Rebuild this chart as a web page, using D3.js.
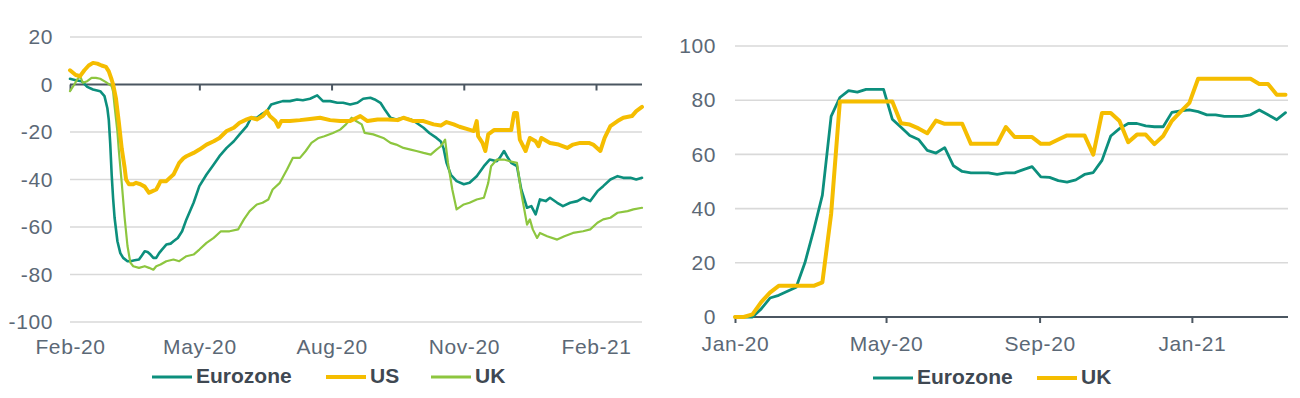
<!DOCTYPE html>
<html>
<head>
<meta charset="utf-8">
<script src="https://cdn.jsdelivr.net/npm/d3@7"></script>
<style>
  html, body { margin: 0; padding: 0; background: #fff; }
  svg { display: block; font-family: "Liberation Sans", Arial, sans-serif; }
</style>
</head>
<body>
<svg id="chart" width="1300" height="398"></svg>
<script>
// ---------- Left chart: daily index, days since 1 Feb 2020 ----------
const leftStart = "2020-02-01";
const leftEnd = "2021-03-05";
const leftTicks = ["2020-02-01", "2020-05-01", "2020-08-01", "2020-11-01", "2021-02-01"];
const leftYTicks = [20, 0, -20, -40, -60, -80, -100];

const usLeft = [[0,6],[4,4],[7,3.5],[10,6],[13,8],[16,9.1],[19,8.8],[22,8],[25,7.4],[27,5.5],[29,2],[30,0],[32,-6],[34,-16],[36,-27],[38,-35],[39,-40],[41,-42],[44,-42],[46,-41.4],[49,-42],[52,-43],[55,-45.6],[57,-45],[60,-44.2],[62,-42],[63,-40.7],[67,-40.7],[70,-39],[72,-37.9],[76,-33],[79,-31],[81,-30.2],[86,-28.8],[90,-27.4],[95,-25.3],[100,-23.9],[104,-22.5],[109,-19.6],[114,-18.2],[118,-16.1],[123,-14.7],[126,-14],[130,-14.7],[134,-13.3],[137,-11.2],[139,-13.3],[143,-15.4],[145,-17.8],[147,-15.4],[153,-15.4],[160,-15],[167,-14.5],[174,-14],[181,-15],[188,-15.4],[195,-15.4],[202,-13.3],[207,-15.4],[214,-14.7],[221,-14.7],[228,-15],[232,-14],[239,-15.4],[246,-15.4],[253,-16.8],[258,-17.3],[262,-15.8],[267,-16.8],[271,-17.8],[276,-18.7],[281,-19.6],[283,-15.4],[284,-21.8],[287,-24.6],[289,-28],[291,-21],[295,-19.2],[300,-19.2],[307,-19.2],[309,-12],[311,-12],[313,-23.2],[317,-28],[320,-22.5],[324,-23.9],[326,-26],[328,-22.5],[334,-24.6],[340,-25.3],[346,-26.7],[350,-25.3],[355,-24.6],[361,-24.6],[364,-25.3],[369,-28],[372,-22.5],[376,-17.5],[381,-15.4],[385,-14],[391,-13.3],[394,-11.2],[398,-9.4]];

const ezLeft = [[0,2.4],[4,1.8],[8,1.4],[12,-1],[16,-2.1],[21,-2.8],[24,-4.9],[26,-10],[27,-15],[28,-25],[29,-38],[30,-48],[31,-56],[33,-66],[35,-71],[37,-73],[40,-74.4],[42,-74.4],[45,-74],[48,-73.7],[50,-72],[52,-70.2],[54,-70.5],[56,-71.6],[58,-73],[60,-73],[62,-71],[64,-69.5],[67,-67.4],[70,-67],[72,-66],[75,-64.6],[78,-61.8],[81,-56.8],[86,-49.8],[90,-42.8],[95,-37.9],[100,-33.7],[104,-30.2],[109,-26.7],[114,-23.9],[118,-21],[123,-17.5],[126,-14],[130,-14],[133,-12.6],[137,-11.2],[140,-8.4],[144,-7.7],[148,-7],[153,-7],[158,-6.3],[162,-6.6],[167,-6],[172,-4.6],[176,-7],[181,-7],[186,-7.7],[190,-7.7],[195,-8.4],[200,-7.7],[204,-6],[209,-5.6],[212,-6.3],[216,-7.7],[219,-10.5],[223,-14],[227,-14.7],[232,-14],[237,-14.7],[241,-16.1],[246,-18.2],[250,-20.4],[255,-22.5],[258,-24],[260,-27],[262,-33],[265,-38],[269,-40.7],[274,-42],[278,-41.4],[283,-38.6],[288,-34.4],[292,-31.6],[297,-32.3],[299,-30.9],[302,-28],[304,-30.2],[307,-33],[311,-34.4],[314,-44.2],[318,-51.9],[321,-51.2],[324,-54.7],[327,-48.4],[331,-49.1],[334,-47.7],[339,-49.8],[343,-51.2],[348,-49.8],[353,-49.1],[357,-47.7],[362,-49.1],[367,-44.9],[371,-42.8],[376,-40],[381,-38.6],[385,-39.3],[390,-39.3],[394,-40],[398,-39.3]];

const ukLeft = [[0,-2.8],[3,0],[5,2.1],[7,3.5],[9,0.7],[12,1.4],[15,2.8],[18,2.8],[21,2.4],[25,1],[29,-0.7],[30,-3],[31,-9],[33,-20],[34,-28],[36,-41.4],[38,-56],[40,-68],[42,-75],[44,-76.5],[48,-77.2],[52,-76.5],[55,-77.2],[58,-78],[60,-76.5],[63,-75.8],[67,-74.4],[72,-73.7],[76,-74.4],[81,-72.3],[86,-71.6],[90,-69.5],[95,-66.7],[100,-64.6],[105,-61.8],[111,-61.8],[117,-61],[121,-56.8],[125,-53.3],[130,-50.5],[134,-49.8],[138,-48.4],[141,-44.2],[146,-41.4],[151,-35.8],[155,-30.9],[160,-30.9],[164,-28],[168,-24.6],[173,-22.5],[177,-21.8],[183,-20.4],[188,-19],[192,-16.8],[196,-14],[199,-15.4],[203,-16.8],[205,-20.4],[211,-21],[218,-22.5],[223,-24.6],[227,-25.3],[232,-26.7],[237,-27.4],[241,-28],[246,-28.8],[251,-29.5],[255,-27.4],[258,-26],[261,-23.2],[263,-33],[266,-44.2],[269,-52.6],[274,-50.5],[278,-49.8],[283,-48.4],[288,-47.7],[291,-41.4],[293,-34.4],[297,-31.6],[302,-31.6],[306,-32.3],[311,-33],[314,-45.6],[318,-59],[320,-56.8],[322,-61],[325,-64.6],[327,-62.5],[332,-63.9],[339,-65.3],[344,-63.9],[350,-62.5],[357,-61.8],[362,-61],[367,-58.2],[371,-56.8],[376,-56.1],[381,-54],[388,-53.3],[392,-52.6],[398,-51.9]];

// ---------- Right chart: weekly index from 1 Jan 2020 ----------
const rightStart = "2020-01-01";
const rightEnd = "2021-03-19";
const rightTicks = ["2020-01-01", "2020-05-01", "2020-09-01", "2021-01-01"];
const rightYTicks = [0, 20, 40, 60, 80, 100];

const ezRight = [0,0,0,3,7,8,9.5,11,20,32,45,74,81,83.5,83,84,84,84,73,70,67,65.5,61.5,60.5,62.5,55.8,53.7,53.2,53.2,53.2,52.6,53.2,53.2,54.4,55.5,51.7,51.5,50.3,49.8,50.6,52.6,53.3,57.8,66.8,69.5,71.4,71.4,70.5,70.2,70.2,75.5,76.1,76.4,75.8,74.6,74.6,74,74,74,74.6,76.4,74.6,72.8,75.4];
const ukRight = [0,0,1,5.5,9,11.5,11.5,11.5,11.5,11.5,12.8,38,79.5,79.5,79.5,79.5,79.5,79.5,79.5,71.5,71,69.6,67.8,72.5,71.3,71.3,71.3,63.9,63.9,63.9,63.9,70.1,66.4,66.4,66.4,63.9,63.9,65.5,67,67,67,59.9,75.3,75.3,72.3,64.5,67.3,67.3,63.8,66.8,72.4,75.8,79,87.9,87.9,87.9,87.9,87.9,87.9,87.9,86,86,82,82];

const parse = d3.utcParse("%Y-%m-%d");
const colors = { ez: "#0c8f7d", us: "#f5bd00", uk: "#8dc63f" };
const gridColor = "#d9d9d9", axisColor = "#4b5661", tickText = "#5b6876", legendText = "#3f4852";

const svg = d3.select("#chart");

function panel(opt) {
  const g = svg.append("g");
  const x = d3.scaleUtc().domain([parse(opt.start), parse(opt.end)]).range(opt.xr);
  const y = d3.scaleLinear().domain(opt.yd).range(opt.yr);

  // gridlines
  g.append("g").selectAll("line").data(opt.yTicks.filter(v => v !== opt.zero)).join("line")
    .attr("x1", opt.xr[0]).attr("x2", opt.xr[1])
    .attr("y1", d => y(d)).attr("y2", d => y(d))
    .attr("stroke", gridColor).attr("stroke-width", 1.6);

  // y labels (plain hyphen minus as in the source)
  const yAxis = d3.axisLeft(y).tickValues(opt.yTicks).tickSize(0).tickPadding(0)
    .tickFormat(d => String(d));
  const ya = g.append("g").attr("transform", `translate(${opt.yLabelX},0)`).call(yAxis);
  ya.select(".domain").remove();
  ya.selectAll("text").attr("font-size", 21).attr("fill", tickText)
    .attr("letter-spacing", "0.6px")
    .attr("font-family", "Liberation Sans, Arial, sans-serif");

  // x axis on zero line
  const xAxis = d3.axisBottom(x).tickValues(opt.xTicks.map(parse)).tickSize(6)
    .tickFormat(d3.utcFormat("%b-%y")).tickSizeOuter(0);
  const xa = g.append("g").attr("transform", `translate(0,${y(opt.zero)})`).call(xAxis);
  xa.select(".domain").attr("stroke", axisColor).attr("stroke-width", 2.2)
    .attr("d", `M${opt.xr[0]},0H${opt.xr[1]}`);
  xa.selectAll(".tick line").attr("stroke", axisColor).attr("stroke-width", 2);
  xa.selectAll("text").attr("font-size", 21).attr("fill", tickText)
    .attr("letter-spacing", "0.6px")
    .attr("font-family", "Liberation Sans, Arial, sans-serif")
    .attr("y", 0).attr("dy", 0)
    .attr("transform", `translate(0,${opt.xLabelY - y(opt.zero)})`)
    .attr("dominant-baseline", "middle");

  // lines
  const line = d3.line().x(d => x(d[0])).y(d => y(d[1])).curve(d3.curveLinear);
  opt.series.forEach(s => {
    g.append("path").datum(s.data).attr("d", line)
      .attr("fill", "none").attr("stroke", s.color).attr("stroke-width", s.width)
      .attr("stroke-linejoin", "round").attr("stroke-linecap", "round");
  });

  // legend
  const lg = g.append("g");
  opt.legend.forEach(l => {
    lg.append("line").attr("x1", l.x).attr("x2", l.x + 40).attr("y1", opt.legendY).attr("y2", opt.legendY)
      .attr("stroke", l.color).attr("stroke-width", l.width);
    lg.append("text").attr("x", l.x + 44).attr("y", opt.legendY).attr("dominant-baseline", "middle")
      .attr("font-size", 21).attr("font-weight", "bold").attr("fill", legendText).text(l.name);
  });
}

const ls = parse(leftStart);
const toDate = (start) => (p) => [d3.utcDay.offset(start, p[0]), p[1]];

panel({
  start: leftStart, end: leftEnd, xr: [70, 642], yd: [-100, 20], yr: [322, 37],
  yTicks: leftYTicks, zero: 0, yLabelX: 53, xTicks: leftTicks, xLabelY: 348,
  series: [
    { data: ezLeft.map(toDate(ls)), color: colors.ez, width: 2.6 },
    { data: ukLeft.map(toDate(ls)), color: colors.uk, width: 2.2 },
    { data: usLeft.map(toDate(ls)), color: colors.us, width: 4 }
  ],
  legendY: 377,
  legend: [
    { x: 152, name: "Eurozone", color: colors.ez, width: 3 },
    { x: 326, name: "US", color: colors.us, width: 4 },
    { x: 431, name: "UK", color: colors.uk, width: 3 }
  ]
});

const rs = parse(rightStart);
const weekly = (arr) => arr.map((v, i) => [d3.utcDay.offset(rs, 7 * i), v]);

panel({
  start: rightStart, end: rightEnd, xr: [735, 1288], yd: [0, 100], yr: [317, 46],
  yTicks: rightYTicks, zero: 0, yLabelX: 716, xTicks: rightTicks, xLabelY: 345,
  series: [
    { data: weekly(ezRight), color: colors.ez, width: 2.8 },
    { data: weekly(ukRight), color: colors.us, width: 4 }
  ],
  legendY: 378,
  legend: [
    { x: 873, name: "Eurozone", color: colors.ez, width: 3 },
    { x: 1037, name: "UK", color: colors.us, width: 4 }
  ]
});
</script>
</body>
</html>
